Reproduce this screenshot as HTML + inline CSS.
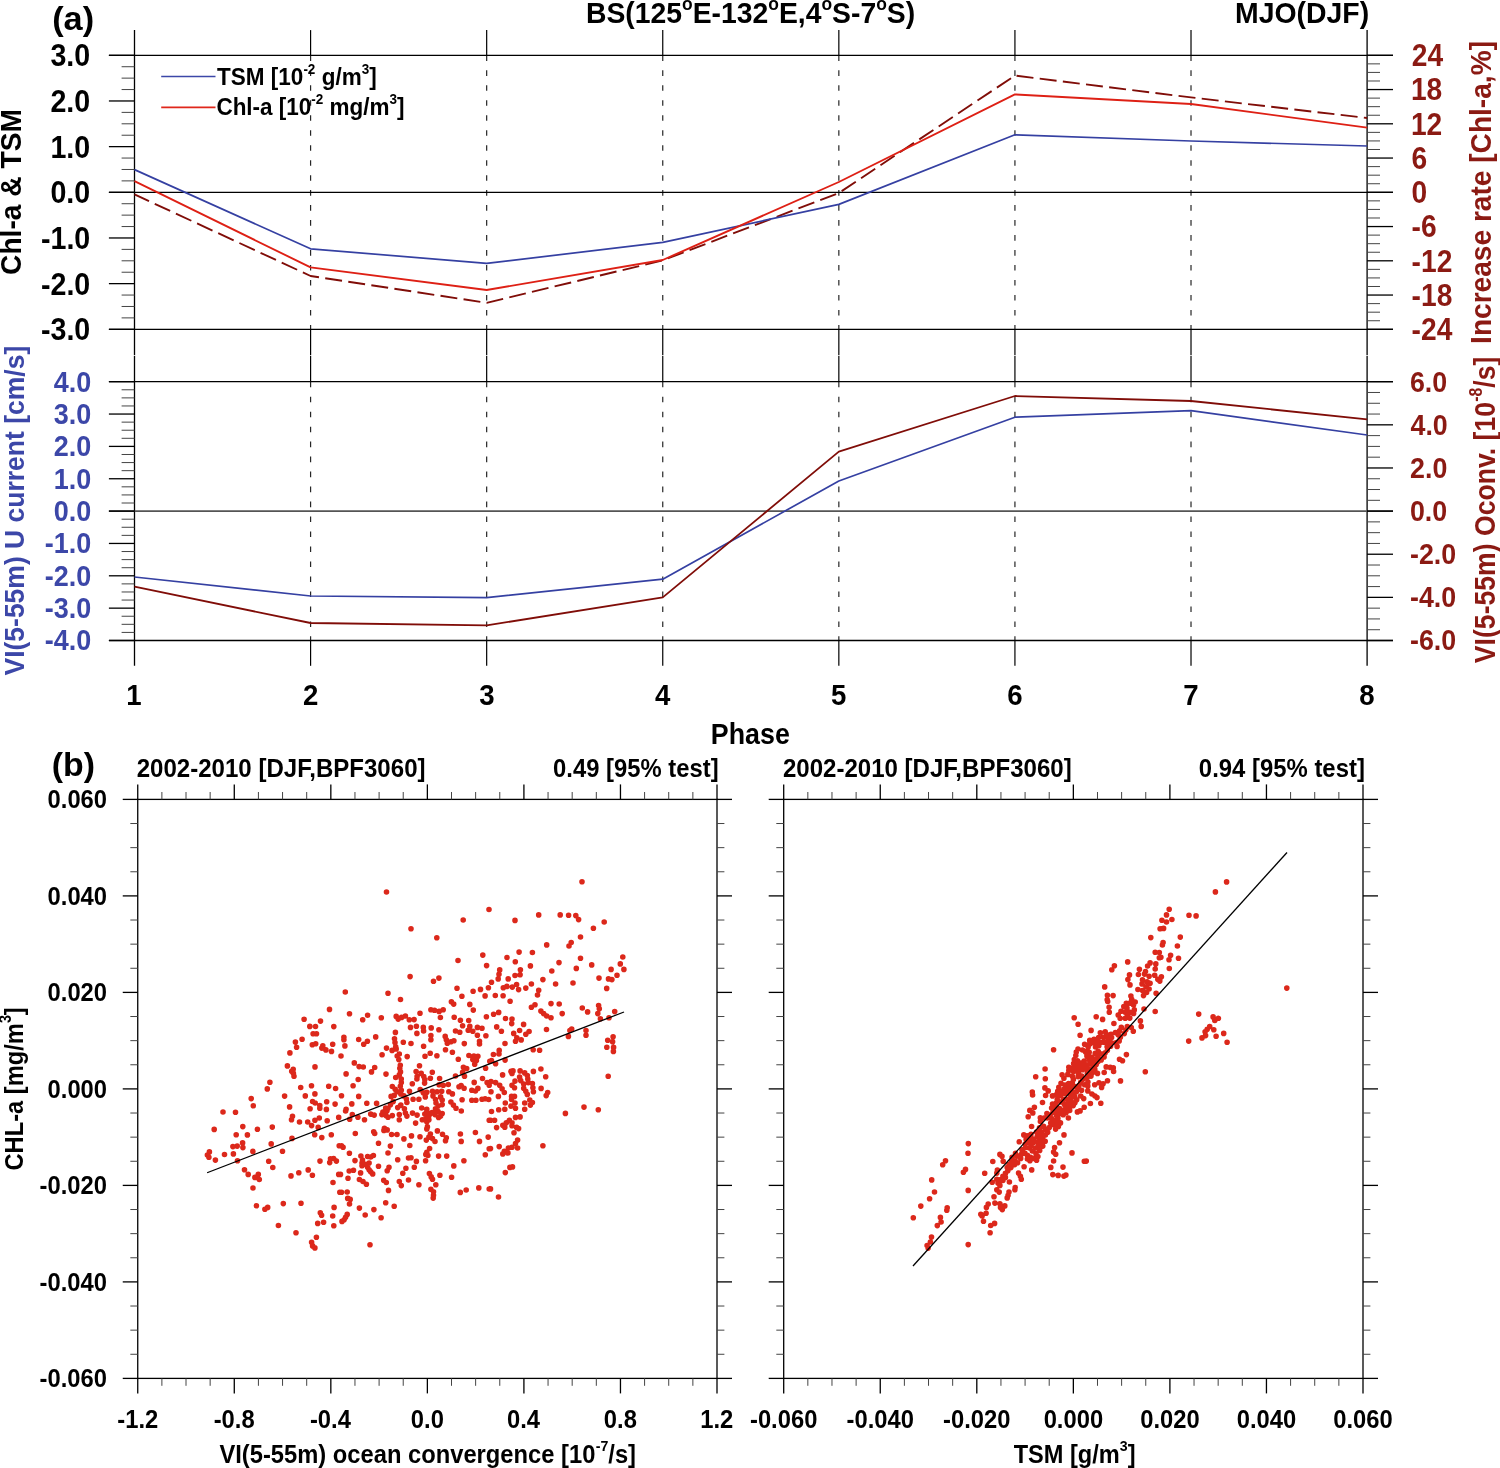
<!DOCTYPE html>
<html><head><meta charset="utf-8"><title>Figure</title>
<style>
html,body{margin:0;padding:0;background:#fff;}
body{width:1500px;height:1468px;overflow:hidden;}
svg{display:block;will-change:transform;}
text{font-family:"Liberation Sans",sans-serif;font-weight:bold;}
</style></head><body>
<svg width="1500" height="1468" viewBox="0 0 1500 1468">
<rect width="1500" height="1468" fill="#fff"/>
<g id="panelA">
<line x1="134.5" y1="30.1" x2="134.5" y2="355.1" stroke="#000" stroke-width="1.3"/>
<line x1="134.5" y1="355.8" x2="134.5" y2="665.8" stroke="#000" stroke-width="1.3"/>
<line x1="310.59" y1="30.1" x2="310.59" y2="55.3" stroke="#000" stroke-width="1.2"/>
<line x1="310.59" y1="55.3" x2="310.59" y2="329.3" stroke="#262626" stroke-width="1.2" stroke-dasharray="5.6 9.38"/>
<line x1="310.59" y1="329.3" x2="310.59" y2="355.1" stroke="#000" stroke-width="1.2"/>
<line x1="310.59" y1="355.8" x2="310.59" y2="381.7" stroke="#000" stroke-width="1.2"/>
<line x1="310.59" y1="381.7" x2="310.59" y2="640.5" stroke="#262626" stroke-width="1.2" stroke-dasharray="5.6 9.38"/>
<line x1="310.59" y1="640.5" x2="310.59" y2="665.8" stroke="#000" stroke-width="1.2"/>
<line x1="486.67" y1="30.1" x2="486.67" y2="55.3" stroke="#000" stroke-width="1.2"/>
<line x1="486.67" y1="55.3" x2="486.67" y2="329.3" stroke="#262626" stroke-width="1.2" stroke-dasharray="5.6 9.38"/>
<line x1="486.67" y1="329.3" x2="486.67" y2="355.1" stroke="#000" stroke-width="1.2"/>
<line x1="486.67" y1="355.8" x2="486.67" y2="381.7" stroke="#000" stroke-width="1.2"/>
<line x1="486.67" y1="381.7" x2="486.67" y2="640.5" stroke="#262626" stroke-width="1.2" stroke-dasharray="5.6 9.38"/>
<line x1="486.67" y1="640.5" x2="486.67" y2="665.8" stroke="#000" stroke-width="1.2"/>
<line x1="662.75" y1="30.1" x2="662.75" y2="55.3" stroke="#000" stroke-width="1.2"/>
<line x1="662.75" y1="55.3" x2="662.75" y2="329.3" stroke="#262626" stroke-width="1.2" stroke-dasharray="5.6 9.38"/>
<line x1="662.75" y1="329.3" x2="662.75" y2="355.1" stroke="#000" stroke-width="1.2"/>
<line x1="662.75" y1="355.8" x2="662.75" y2="381.7" stroke="#000" stroke-width="1.2"/>
<line x1="662.75" y1="381.7" x2="662.75" y2="640.5" stroke="#262626" stroke-width="1.2" stroke-dasharray="5.6 9.38"/>
<line x1="662.75" y1="640.5" x2="662.75" y2="665.8" stroke="#000" stroke-width="1.2"/>
<line x1="838.84" y1="30.1" x2="838.84" y2="55.3" stroke="#000" stroke-width="1.2"/>
<line x1="838.84" y1="55.3" x2="838.84" y2="329.3" stroke="#262626" stroke-width="1.2" stroke-dasharray="5.6 9.38"/>
<line x1="838.84" y1="329.3" x2="838.84" y2="355.1" stroke="#000" stroke-width="1.2"/>
<line x1="838.84" y1="355.8" x2="838.84" y2="381.7" stroke="#000" stroke-width="1.2"/>
<line x1="838.84" y1="381.7" x2="838.84" y2="640.5" stroke="#262626" stroke-width="1.2" stroke-dasharray="5.6 9.38"/>
<line x1="838.84" y1="640.5" x2="838.84" y2="665.8" stroke="#000" stroke-width="1.2"/>
<line x1="1014.93" y1="30.1" x2="1014.93" y2="55.3" stroke="#000" stroke-width="1.2"/>
<line x1="1014.93" y1="55.3" x2="1014.93" y2="329.3" stroke="#262626" stroke-width="1.2" stroke-dasharray="5.6 9.38"/>
<line x1="1014.93" y1="329.3" x2="1014.93" y2="355.1" stroke="#000" stroke-width="1.2"/>
<line x1="1014.93" y1="355.8" x2="1014.93" y2="381.7" stroke="#000" stroke-width="1.2"/>
<line x1="1014.93" y1="381.7" x2="1014.93" y2="640.5" stroke="#262626" stroke-width="1.2" stroke-dasharray="5.6 9.38"/>
<line x1="1014.93" y1="640.5" x2="1014.93" y2="665.8" stroke="#000" stroke-width="1.2"/>
<line x1="1191.01" y1="30.1" x2="1191.01" y2="55.3" stroke="#000" stroke-width="1.2"/>
<line x1="1191.01" y1="55.3" x2="1191.01" y2="329.3" stroke="#262626" stroke-width="1.2" stroke-dasharray="5.6 9.38"/>
<line x1="1191.01" y1="329.3" x2="1191.01" y2="355.1" stroke="#000" stroke-width="1.2"/>
<line x1="1191.01" y1="355.8" x2="1191.01" y2="381.7" stroke="#000" stroke-width="1.2"/>
<line x1="1191.01" y1="381.7" x2="1191.01" y2="640.5" stroke="#262626" stroke-width="1.2" stroke-dasharray="5.6 9.38"/>
<line x1="1191.01" y1="640.5" x2="1191.01" y2="665.8" stroke="#000" stroke-width="1.2"/>
<line x1="1367.1" y1="30.1" x2="1367.1" y2="355.1" stroke="#000" stroke-width="1.3"/>
<line x1="1367.1" y1="355.8" x2="1367.1" y2="665.8" stroke="#000" stroke-width="1.3"/>
<line x1="108.9" y1="55.3" x2="1393" y2="55.3" stroke="#000" stroke-width="1.3"/>
<line x1="108.9" y1="192.3" x2="1393" y2="192.3" stroke="#000" stroke-width="1.3"/>
<line x1="108.9" y1="329.3" x2="1393" y2="329.3" stroke="#000" stroke-width="1.3"/>
<line x1="108.9" y1="381.7" x2="1393" y2="381.7" stroke="#000" stroke-width="1.3"/>
<line x1="108.9" y1="640.5" x2="1393" y2="640.5" stroke="#000" stroke-width="1.3"/>
<line x1="134.5" y1="511.1" x2="1367.1" y2="511.1" stroke="#555" stroke-width="1.6"/>
<line x1="108.9" y1="511.1" x2="134.5" y2="511.1" stroke="#000" stroke-width="1.3"/>
<line x1="1367.1" y1="511.1" x2="1393" y2="511.1" stroke="#000" stroke-width="1.3"/>
<line x1="108.9" y1="55.3" x2="134.5" y2="55.3" stroke="#000" stroke-width="1.3"/>
<line x1="121.6" y1="66.72" x2="134.5" y2="66.72" stroke="#444" stroke-width="1.0"/>
<line x1="121.6" y1="78.13" x2="134.5" y2="78.13" stroke="#444" stroke-width="1.0"/>
<line x1="121.6" y1="89.55" x2="134.5" y2="89.55" stroke="#444" stroke-width="1.0"/>
<line x1="108.9" y1="100.97" x2="134.5" y2="100.97" stroke="#000" stroke-width="1.3"/>
<line x1="121.6" y1="112.38" x2="134.5" y2="112.38" stroke="#444" stroke-width="1.0"/>
<line x1="121.6" y1="123.8" x2="134.5" y2="123.8" stroke="#444" stroke-width="1.0"/>
<line x1="121.6" y1="135.22" x2="134.5" y2="135.22" stroke="#444" stroke-width="1.0"/>
<line x1="108.9" y1="146.63" x2="134.5" y2="146.63" stroke="#000" stroke-width="1.3"/>
<line x1="121.6" y1="158.05" x2="134.5" y2="158.05" stroke="#444" stroke-width="1.0"/>
<line x1="121.6" y1="169.47" x2="134.5" y2="169.47" stroke="#444" stroke-width="1.0"/>
<line x1="121.6" y1="180.88" x2="134.5" y2="180.88" stroke="#444" stroke-width="1.0"/>
<line x1="108.9" y1="192.3" x2="134.5" y2="192.3" stroke="#000" stroke-width="1.3"/>
<line x1="121.6" y1="203.72" x2="134.5" y2="203.72" stroke="#444" stroke-width="1.0"/>
<line x1="121.6" y1="215.13" x2="134.5" y2="215.13" stroke="#444" stroke-width="1.0"/>
<line x1="121.6" y1="226.55" x2="134.5" y2="226.55" stroke="#444" stroke-width="1.0"/>
<line x1="108.9" y1="237.97" x2="134.5" y2="237.97" stroke="#000" stroke-width="1.3"/>
<line x1="121.6" y1="249.38" x2="134.5" y2="249.38" stroke="#444" stroke-width="1.0"/>
<line x1="121.6" y1="260.8" x2="134.5" y2="260.8" stroke="#444" stroke-width="1.0"/>
<line x1="121.6" y1="272.22" x2="134.5" y2="272.22" stroke="#444" stroke-width="1.0"/>
<line x1="108.9" y1="283.63" x2="134.5" y2="283.63" stroke="#000" stroke-width="1.3"/>
<line x1="121.6" y1="295.05" x2="134.5" y2="295.05" stroke="#444" stroke-width="1.0"/>
<line x1="121.6" y1="306.47" x2="134.5" y2="306.47" stroke="#444" stroke-width="1.0"/>
<line x1="121.6" y1="317.88" x2="134.5" y2="317.88" stroke="#444" stroke-width="1.0"/>
<line x1="108.9" y1="329.3" x2="134.5" y2="329.3" stroke="#000" stroke-width="1.3"/>
<line x1="1367.1" y1="55.3" x2="1393" y2="55.3" stroke="#000" stroke-width="1.3"/>
<line x1="1367.1" y1="63.86" x2="1380" y2="63.86" stroke="#444" stroke-width="1.0"/>
<line x1="1367.1" y1="72.42" x2="1380" y2="72.42" stroke="#444" stroke-width="1.0"/>
<line x1="1367.1" y1="80.99" x2="1380" y2="80.99" stroke="#444" stroke-width="1.0"/>
<line x1="1367.1" y1="89.55" x2="1393" y2="89.55" stroke="#000" stroke-width="1.3"/>
<line x1="1367.1" y1="98.11" x2="1380" y2="98.11" stroke="#444" stroke-width="1.0"/>
<line x1="1367.1" y1="106.67" x2="1380" y2="106.67" stroke="#444" stroke-width="1.0"/>
<line x1="1367.1" y1="115.24" x2="1380" y2="115.24" stroke="#444" stroke-width="1.0"/>
<line x1="1367.1" y1="123.8" x2="1393" y2="123.8" stroke="#000" stroke-width="1.3"/>
<line x1="1367.1" y1="132.36" x2="1380" y2="132.36" stroke="#444" stroke-width="1.0"/>
<line x1="1367.1" y1="140.93" x2="1380" y2="140.93" stroke="#444" stroke-width="1.0"/>
<line x1="1367.1" y1="149.49" x2="1380" y2="149.49" stroke="#444" stroke-width="1.0"/>
<line x1="1367.1" y1="158.05" x2="1393" y2="158.05" stroke="#000" stroke-width="1.3"/>
<line x1="1367.1" y1="166.61" x2="1380" y2="166.61" stroke="#444" stroke-width="1.0"/>
<line x1="1367.1" y1="175.18" x2="1380" y2="175.18" stroke="#444" stroke-width="1.0"/>
<line x1="1367.1" y1="183.74" x2="1380" y2="183.74" stroke="#444" stroke-width="1.0"/>
<line x1="1367.1" y1="192.3" x2="1393" y2="192.3" stroke="#000" stroke-width="1.3"/>
<line x1="1367.1" y1="200.86" x2="1380" y2="200.86" stroke="#444" stroke-width="1.0"/>
<line x1="1367.1" y1="209.43" x2="1380" y2="209.43" stroke="#444" stroke-width="1.0"/>
<line x1="1367.1" y1="217.99" x2="1380" y2="217.99" stroke="#444" stroke-width="1.0"/>
<line x1="1367.1" y1="226.55" x2="1393" y2="226.55" stroke="#000" stroke-width="1.3"/>
<line x1="1367.1" y1="235.11" x2="1380" y2="235.11" stroke="#444" stroke-width="1.0"/>
<line x1="1367.1" y1="243.68" x2="1380" y2="243.68" stroke="#444" stroke-width="1.0"/>
<line x1="1367.1" y1="252.24" x2="1380" y2="252.24" stroke="#444" stroke-width="1.0"/>
<line x1="1367.1" y1="260.8" x2="1393" y2="260.8" stroke="#000" stroke-width="1.3"/>
<line x1="1367.1" y1="269.36" x2="1380" y2="269.36" stroke="#444" stroke-width="1.0"/>
<line x1="1367.1" y1="277.93" x2="1380" y2="277.93" stroke="#444" stroke-width="1.0"/>
<line x1="1367.1" y1="286.49" x2="1380" y2="286.49" stroke="#444" stroke-width="1.0"/>
<line x1="1367.1" y1="295.05" x2="1393" y2="295.05" stroke="#000" stroke-width="1.3"/>
<line x1="1367.1" y1="303.61" x2="1380" y2="303.61" stroke="#444" stroke-width="1.0"/>
<line x1="1367.1" y1="312.18" x2="1380" y2="312.18" stroke="#444" stroke-width="1.0"/>
<line x1="1367.1" y1="320.74" x2="1380" y2="320.74" stroke="#444" stroke-width="1.0"/>
<line x1="1367.1" y1="329.3" x2="1393" y2="329.3" stroke="#000" stroke-width="1.3"/>
<line x1="108.9" y1="381.7" x2="134.5" y2="381.7" stroke="#000" stroke-width="1.3"/>
<line x1="121.6" y1="389.79" x2="134.5" y2="389.79" stroke="#444" stroke-width="1.0"/>
<line x1="121.6" y1="397.88" x2="134.5" y2="397.88" stroke="#444" stroke-width="1.0"/>
<line x1="121.6" y1="405.96" x2="134.5" y2="405.96" stroke="#444" stroke-width="1.0"/>
<line x1="108.9" y1="414.05" x2="134.5" y2="414.05" stroke="#000" stroke-width="1.3"/>
<line x1="121.6" y1="422.14" x2="134.5" y2="422.14" stroke="#444" stroke-width="1.0"/>
<line x1="121.6" y1="430.23" x2="134.5" y2="430.23" stroke="#444" stroke-width="1.0"/>
<line x1="121.6" y1="438.31" x2="134.5" y2="438.31" stroke="#444" stroke-width="1.0"/>
<line x1="108.9" y1="446.4" x2="134.5" y2="446.4" stroke="#000" stroke-width="1.3"/>
<line x1="121.6" y1="454.49" x2="134.5" y2="454.49" stroke="#444" stroke-width="1.0"/>
<line x1="121.6" y1="462.57" x2="134.5" y2="462.57" stroke="#444" stroke-width="1.0"/>
<line x1="121.6" y1="470.66" x2="134.5" y2="470.66" stroke="#444" stroke-width="1.0"/>
<line x1="108.9" y1="478.75" x2="134.5" y2="478.75" stroke="#000" stroke-width="1.3"/>
<line x1="121.6" y1="486.84" x2="134.5" y2="486.84" stroke="#444" stroke-width="1.0"/>
<line x1="121.6" y1="494.93" x2="134.5" y2="494.93" stroke="#444" stroke-width="1.0"/>
<line x1="121.6" y1="503.01" x2="134.5" y2="503.01" stroke="#444" stroke-width="1.0"/>
<line x1="108.9" y1="511.1" x2="134.5" y2="511.1" stroke="#000" stroke-width="1.3"/>
<line x1="121.6" y1="519.19" x2="134.5" y2="519.19" stroke="#444" stroke-width="1.0"/>
<line x1="121.6" y1="527.27" x2="134.5" y2="527.27" stroke="#444" stroke-width="1.0"/>
<line x1="121.6" y1="535.36" x2="134.5" y2="535.36" stroke="#444" stroke-width="1.0"/>
<line x1="108.9" y1="543.45" x2="134.5" y2="543.45" stroke="#000" stroke-width="1.3"/>
<line x1="121.6" y1="551.54" x2="134.5" y2="551.54" stroke="#444" stroke-width="1.0"/>
<line x1="121.6" y1="559.62" x2="134.5" y2="559.62" stroke="#444" stroke-width="1.0"/>
<line x1="121.6" y1="567.71" x2="134.5" y2="567.71" stroke="#444" stroke-width="1.0"/>
<line x1="108.9" y1="575.8" x2="134.5" y2="575.8" stroke="#000" stroke-width="1.3"/>
<line x1="121.6" y1="583.89" x2="134.5" y2="583.89" stroke="#444" stroke-width="1.0"/>
<line x1="121.6" y1="591.97" x2="134.5" y2="591.97" stroke="#444" stroke-width="1.0"/>
<line x1="121.6" y1="600.06" x2="134.5" y2="600.06" stroke="#444" stroke-width="1.0"/>
<line x1="108.9" y1="608.15" x2="134.5" y2="608.15" stroke="#000" stroke-width="1.3"/>
<line x1="121.6" y1="616.24" x2="134.5" y2="616.24" stroke="#444" stroke-width="1.0"/>
<line x1="121.6" y1="624.32" x2="134.5" y2="624.32" stroke="#444" stroke-width="1.0"/>
<line x1="121.6" y1="632.41" x2="134.5" y2="632.41" stroke="#444" stroke-width="1.0"/>
<line x1="108.9" y1="640.5" x2="134.5" y2="640.5" stroke="#000" stroke-width="1.3"/>
<line x1="1367.1" y1="381.7" x2="1393" y2="381.7" stroke="#000" stroke-width="1.3"/>
<line x1="1367.1" y1="392.48" x2="1380" y2="392.48" stroke="#444" stroke-width="1.0"/>
<line x1="1367.1" y1="403.27" x2="1380" y2="403.27" stroke="#444" stroke-width="1.0"/>
<line x1="1367.1" y1="414.05" x2="1380" y2="414.05" stroke="#444" stroke-width="1.0"/>
<line x1="1367.1" y1="424.83" x2="1393" y2="424.83" stroke="#000" stroke-width="1.3"/>
<line x1="1367.1" y1="435.62" x2="1380" y2="435.62" stroke="#444" stroke-width="1.0"/>
<line x1="1367.1" y1="446.4" x2="1380" y2="446.4" stroke="#444" stroke-width="1.0"/>
<line x1="1367.1" y1="457.18" x2="1380" y2="457.18" stroke="#444" stroke-width="1.0"/>
<line x1="1367.1" y1="467.97" x2="1393" y2="467.97" stroke="#000" stroke-width="1.3"/>
<line x1="1367.1" y1="478.75" x2="1380" y2="478.75" stroke="#444" stroke-width="1.0"/>
<line x1="1367.1" y1="489.53" x2="1380" y2="489.53" stroke="#444" stroke-width="1.0"/>
<line x1="1367.1" y1="500.32" x2="1380" y2="500.32" stroke="#444" stroke-width="1.0"/>
<line x1="1367.1" y1="511.1" x2="1393" y2="511.1" stroke="#000" stroke-width="1.3"/>
<line x1="1367.1" y1="521.88" x2="1380" y2="521.88" stroke="#444" stroke-width="1.0"/>
<line x1="1367.1" y1="532.67" x2="1380" y2="532.67" stroke="#444" stroke-width="1.0"/>
<line x1="1367.1" y1="543.45" x2="1380" y2="543.45" stroke="#444" stroke-width="1.0"/>
<line x1="1367.1" y1="554.23" x2="1393" y2="554.23" stroke="#000" stroke-width="1.3"/>
<line x1="1367.1" y1="565.02" x2="1380" y2="565.02" stroke="#444" stroke-width="1.0"/>
<line x1="1367.1" y1="575.8" x2="1380" y2="575.8" stroke="#444" stroke-width="1.0"/>
<line x1="1367.1" y1="586.58" x2="1380" y2="586.58" stroke="#444" stroke-width="1.0"/>
<line x1="1367.1" y1="597.37" x2="1393" y2="597.37" stroke="#000" stroke-width="1.3"/>
<line x1="1367.1" y1="608.15" x2="1380" y2="608.15" stroke="#444" stroke-width="1.0"/>
<line x1="1367.1" y1="618.93" x2="1380" y2="618.93" stroke="#444" stroke-width="1.0"/>
<line x1="1367.1" y1="629.72" x2="1380" y2="629.72" stroke="#444" stroke-width="1.0"/>
<line x1="1367.1" y1="640.5" x2="1393" y2="640.5" stroke="#000" stroke-width="1.3"/>
<polyline points="134.5,194.4 310.59,276 486.67,302.8 662.75,260.4 838.84,193 1014.93,75.6 1191.01,97.4 1367.1,118" fill="none" stroke="#800d08" stroke-width="1.9" stroke-linejoin="round" stroke-dasharray="17 6.32" stroke-dashoffset="1.0"/>
<polyline points="134.5,169.6 310.59,248.8 486.67,263.4 662.75,242.4 838.84,204.4 1014.93,134.8 1191.01,141 1367.1,146" fill="none" stroke="#3540a2" stroke-width="1.7" stroke-linejoin="round"/>
<polyline points="134.5,181.2 310.59,267.4 486.67,290 662.75,260 838.84,182 1014.93,94.4 1191.01,104 1367.1,127.6" fill="none" stroke="#de2015" stroke-width="1.9" stroke-linejoin="round"/>
<polyline points="134.5,577 310.59,596 486.67,597.6 662.75,579.2 838.84,481 1014.93,417.2 1191.01,410.6 1367.1,435" fill="none" stroke="#3540a2" stroke-width="1.7" stroke-linejoin="round"/>
<polyline points="134.5,586.6 310.59,623 486.67,625.4 662.75,597.4 838.84,451.6 1014.93,396 1191.01,401 1367.1,419.4" fill="none" stroke="#800d08" stroke-width="1.8" stroke-linejoin="round"/>
<line x1="161.2" y1="76.5" x2="215.5" y2="76.5" stroke="#3c47a8" stroke-width="1.6"/>
<line x1="161.2" y1="107.4" x2="215.5" y2="107.4" stroke="#e0271b" stroke-width="1.8"/>
<text transform="translate(217.07,84.6) scale(0.9459,1)" fill="#000" font-size="23.8"><tspan x="0" y="0" font-size="23.8">TSM [10</tspan><tspan x="91.25" y="-10.95" font-size="14.28">-2</tspan><tspan x="103.95" y="0" font-size="23.8"> g/m</tspan><tspan x="152.87" y="-10.95" font-size="14.28">3</tspan><tspan x="160.82" y="0" font-size="23.8">]</tspan></text>
<text transform="translate(216.4,115.4) scale(0.9449,1)" fill="#000" font-size="23.8"><tspan x="0" y="0" font-size="23.8">Chl-a [10</tspan><tspan x="100.51" y="-10.95" font-size="14.28">-2</tspan><tspan x="113.21" y="0" font-size="23.8"> mg/m</tspan><tspan x="183.3" y="-10.95" font-size="14.28">3</tspan><tspan x="191.24" y="0" font-size="23.8">]</tspan></text>
<text transform="translate(52.15,29.9) scale(1.0099,1)" fill="#000" font-size="34"><tspan x="0" y="-0" font-size="34">(a)</tspan></text>
<text transform="translate(585.96,23.3) scale(0.9671,1)" fill="#000" font-size="29.3"><tspan x="0" y="0" font-size="29.3">BS(125</tspan><tspan x="99.35" y="-13.48" font-size="18.02">o</tspan><tspan x="110.36" y="0" font-size="29.3">E-132</tspan><tspan x="188.55" y="-13.48" font-size="18.02">o</tspan><tspan x="199.55" y="0" font-size="29.3">E,4</tspan><tspan x="243.53" y="-13.48" font-size="18.02">o</tspan><tspan x="254.54" y="0" font-size="29.3">S-7</tspan><tspan x="300.14" y="-13.48" font-size="18.02">o</tspan><tspan x="311.15" y="0" font-size="29.3">S)</tspan></text>
<text transform="translate(1235.05,23.2) scale(0.9691,1)" fill="#000" font-size="29.3"><tspan x="0" y="-0" font-size="29.3">MJO(DJF)</tspan></text>
<text transform="translate(50.44,66.22) scale(0.9140,1)" fill="#000" font-size="31.3"><tspan x="0" y="-0" font-size="31.3">3.0</tspan></text>
<text transform="translate(50.44,111.89) scale(0.9140,1)" fill="#000" font-size="31.3"><tspan x="0" y="-0" font-size="31.3">2.0</tspan></text>
<text transform="translate(50.44,157.55) scale(0.9140,1)" fill="#000" font-size="31.3"><tspan x="0" y="-0" font-size="31.3">1.0</tspan></text>
<text transform="translate(50.44,203.22) scale(0.9140,1)" fill="#000" font-size="31.3"><tspan x="0" y="-0" font-size="31.3">0.0</tspan></text>
<text transform="translate(41,248.89) scale(0.9140,1)" fill="#000" font-size="31.3"><tspan x="0" y="-0" font-size="31.3">-1.0</tspan></text>
<text transform="translate(41,294.55) scale(0.9140,1)" fill="#000" font-size="31.3"><tspan x="0" y="-0" font-size="31.3">-2.0</tspan></text>
<text transform="translate(41,340.22) scale(0.9140,1)" fill="#000" font-size="31.3"><tspan x="0" y="-0" font-size="31.3">-3.0</tspan></text>
<text transform="translate(1411.75,66.22) scale(0.9000,1)" fill="#8b1a13" font-size="31.3"><tspan x="0" y="-0" font-size="31.3">24</tspan></text>
<text transform="translate(1410.91,100.47) scale(0.9000,1)" fill="#8b1a13" font-size="31.3"><tspan x="0" y="-0" font-size="31.3">18</tspan></text>
<text transform="translate(1410.91,134.72) scale(0.9000,1)" fill="#8b1a13" font-size="31.3"><tspan x="0" y="-0" font-size="31.3">12</tspan></text>
<text transform="translate(1411.61,168.97) scale(0.9000,1)" fill="#8b1a13" font-size="31.3"><tspan x="0" y="-0" font-size="31.3">6</tspan></text>
<text transform="translate(1411.61,203.22) scale(0.9000,1)" fill="#8b1a13" font-size="31.3"><tspan x="0" y="-0" font-size="31.3">0</tspan></text>
<text transform="translate(1411.61,237.47) scale(0.9000,1)" fill="#8b1a13" font-size="31.3"><tspan x="0" y="-0" font-size="31.3">-6</tspan></text>
<text transform="translate(1411.61,271.72) scale(0.9000,1)" fill="#8b1a13" font-size="31.3"><tspan x="0" y="-0" font-size="31.3">-12</tspan></text>
<text transform="translate(1411.61,305.97) scale(0.9000,1)" fill="#8b1a13" font-size="31.3"><tspan x="0" y="-0" font-size="31.3">-18</tspan></text>
<text transform="translate(1411.61,340.22) scale(0.9000,1)" fill="#8b1a13" font-size="31.3"><tspan x="0" y="-0" font-size="31.3">-24</tspan></text>
<text transform="translate(53.76,391.61) scale(0.9050,1)" fill="#3c47a8" font-size="29.8"><tspan x="0" y="-0" font-size="29.8">4.0</tspan></text>
<text transform="translate(53.76,423.96) scale(0.9050,1)" fill="#3c47a8" font-size="29.8"><tspan x="0" y="-0" font-size="29.8">3.0</tspan></text>
<text transform="translate(53.76,456.31) scale(0.9050,1)" fill="#3c47a8" font-size="29.8"><tspan x="0" y="-0" font-size="29.8">2.0</tspan></text>
<text transform="translate(53.76,488.66) scale(0.9050,1)" fill="#3c47a8" font-size="29.8"><tspan x="0" y="-0" font-size="29.8">1.0</tspan></text>
<text transform="translate(53.76,521.01) scale(0.9050,1)" fill="#3c47a8" font-size="29.8"><tspan x="0" y="-0" font-size="29.8">0.0</tspan></text>
<text transform="translate(44.86,553.36) scale(0.9050,1)" fill="#3c47a8" font-size="29.8"><tspan x="0" y="-0" font-size="29.8">-1.0</tspan></text>
<text transform="translate(44.86,585.71) scale(0.9050,1)" fill="#3c47a8" font-size="29.8"><tspan x="0" y="-0" font-size="29.8">-2.0</tspan></text>
<text transform="translate(44.86,618.06) scale(0.9050,1)" fill="#3c47a8" font-size="29.8"><tspan x="0" y="-0" font-size="29.8">-3.0</tspan></text>
<text transform="translate(44.86,650.41) scale(0.9050,1)" fill="#3c47a8" font-size="29.8"><tspan x="0" y="-0" font-size="29.8">-4.0</tspan></text>
<text transform="translate(1409.96,391.61) scale(0.9000,1)" fill="#8b1a13" font-size="29.8"><tspan x="0" y="-0" font-size="29.8">6.0</tspan></text>
<text transform="translate(1410.5,434.74) scale(0.9000,1)" fill="#8b1a13" font-size="29.8"><tspan x="0" y="-0" font-size="29.8">4.0</tspan></text>
<text transform="translate(1410.1,477.87) scale(0.9000,1)" fill="#8b1a13" font-size="29.8"><tspan x="0" y="-0" font-size="29.8">2.0</tspan></text>
<text transform="translate(1409.96,521.01) scale(0.9000,1)" fill="#8b1a13" font-size="29.8"><tspan x="0" y="-0" font-size="29.8">0.0</tspan></text>
<text transform="translate(1409.96,564.14) scale(0.9000,1)" fill="#8b1a13" font-size="29.8"><tspan x="0" y="-0" font-size="29.8">-2.0</tspan></text>
<text transform="translate(1409.96,607.27) scale(0.9000,1)" fill="#8b1a13" font-size="29.8"><tspan x="0" y="-0" font-size="29.8">-4.0</tspan></text>
<text transform="translate(1409.96,650.41) scale(0.9000,1)" fill="#8b1a13" font-size="29.8"><tspan x="0" y="-0" font-size="29.8">-6.0</tspan></text>
<text transform="translate(21.3,274.93) rotate(-90) scale(0.9722,1)" fill="#000" font-size="29"><tspan x="0" y="-0" font-size="29">Chl-a &amp; TSM</tspan></text>
<text transform="translate(1490.6,343.93) rotate(-90) scale(0.9433,1)" fill="#8b1a13" font-size="29.8"><tspan x="0" y="-0" font-size="29.8">Increase rate [Chl-a,%]</tspan></text>
<text transform="translate(23.9,675.53) rotate(-90) scale(0.9890,1)" fill="#3c47a8" font-size="26.8"><tspan x="0" y="-0" font-size="26.8">VI(5-55m) U current [cm/s]</tspan></text>
<text transform="translate(1495.3,663.13) rotate(-90) scale(0.9113,1)" fill="#8b1a13" font-size="29.2"><tspan x="0" y="0" font-size="29.2">VI(5-55m) Oconv. [10</tspan><tspan x="286.69" y="-13.43" font-size="17.52">-8</tspan><tspan x="302.27" y="0" font-size="29.2">/s]</tspan></text>
<text transform="translate(126.35,704.9) scale(0.9300,1)" fill="#000" font-size="29.7"><tspan x="0" y="-0" font-size="29.7">1</tspan></text>
<text transform="translate(302.99,704.9) scale(0.9300,1)" fill="#000" font-size="29.7"><tspan x="0" y="-0" font-size="29.7">2</tspan></text>
<text transform="translate(479.21,704.9) scale(0.9300,1)" fill="#000" font-size="29.7"><tspan x="0" y="-0" font-size="29.7">3</tspan></text>
<text transform="translate(654.88,704.9) scale(0.9300,1)" fill="#000" font-size="29.7"><tspan x="0" y="-0" font-size="29.7">4</tspan></text>
<text transform="translate(831.11,704.9) scale(0.9300,1)" fill="#000" font-size="29.7"><tspan x="0" y="-0" font-size="29.7">5</tspan></text>
<text transform="translate(1007.26,704.9) scale(0.9300,1)" fill="#000" font-size="29.7"><tspan x="0" y="-0" font-size="29.7">6</tspan></text>
<text transform="translate(1183.35,704.9) scale(0.9300,1)" fill="#000" font-size="29.7"><tspan x="0" y="-0" font-size="29.7">7</tspan></text>
<text transform="translate(1359.36,704.9) scale(0.9300,1)" fill="#000" font-size="29.7"><tspan x="0" y="-0" font-size="29.7">8</tspan></text>
<text transform="translate(710.86,743.5) scale(0.9308,1)" fill="#000" font-size="28.8"><tspan x="0" y="-0" font-size="28.8">Phase</tspan></text>
</g>
<g id="panelB">
<rect x="137.74" y="799.4" width="579.26" height="579" fill="none" stroke="#000" stroke-width="1.3"/>
<line x1="137.74" y1="784.4" x2="137.74" y2="799.4" stroke="#000" stroke-width="1.3"/>
<line x1="137.74" y1="1378.4" x2="137.74" y2="1393.4" stroke="#000" stroke-width="1.3"/>
<line x1="122.74" y1="799.4" x2="137.74" y2="799.4" stroke="#000" stroke-width="1.3"/>
<line x1="717" y1="799.4" x2="732" y2="799.4" stroke="#000" stroke-width="1.3"/>
<line x1="161.88" y1="792" x2="161.88" y2="799.4" stroke="#444" stroke-width="1.0"/>
<line x1="161.88" y1="1378.4" x2="161.88" y2="1385.8" stroke="#444" stroke-width="1.0"/>
<line x1="130.34" y1="823.52" x2="137.74" y2="823.52" stroke="#444" stroke-width="1.0"/>
<line x1="717" y1="823.52" x2="724.4" y2="823.52" stroke="#444" stroke-width="1.0"/>
<line x1="186.01" y1="792" x2="186.01" y2="799.4" stroke="#444" stroke-width="1.0"/>
<line x1="186.01" y1="1378.4" x2="186.01" y2="1385.8" stroke="#444" stroke-width="1.0"/>
<line x1="130.34" y1="847.65" x2="137.74" y2="847.65" stroke="#444" stroke-width="1.0"/>
<line x1="717" y1="847.65" x2="724.4" y2="847.65" stroke="#444" stroke-width="1.0"/>
<line x1="210.15" y1="792" x2="210.15" y2="799.4" stroke="#444" stroke-width="1.0"/>
<line x1="210.15" y1="1378.4" x2="210.15" y2="1385.8" stroke="#444" stroke-width="1.0"/>
<line x1="130.34" y1="871.77" x2="137.74" y2="871.77" stroke="#444" stroke-width="1.0"/>
<line x1="717" y1="871.77" x2="724.4" y2="871.77" stroke="#444" stroke-width="1.0"/>
<line x1="234.28" y1="784.4" x2="234.28" y2="799.4" stroke="#000" stroke-width="1.3"/>
<line x1="234.28" y1="1378.4" x2="234.28" y2="1393.4" stroke="#000" stroke-width="1.3"/>
<line x1="122.74" y1="895.9" x2="137.74" y2="895.9" stroke="#000" stroke-width="1.3"/>
<line x1="717" y1="895.9" x2="732" y2="895.9" stroke="#000" stroke-width="1.3"/>
<line x1="258.42" y1="792" x2="258.42" y2="799.4" stroke="#444" stroke-width="1.0"/>
<line x1="258.42" y1="1378.4" x2="258.42" y2="1385.8" stroke="#444" stroke-width="1.0"/>
<line x1="130.34" y1="920.02" x2="137.74" y2="920.02" stroke="#444" stroke-width="1.0"/>
<line x1="717" y1="920.02" x2="724.4" y2="920.02" stroke="#444" stroke-width="1.0"/>
<line x1="282.56" y1="792" x2="282.56" y2="799.4" stroke="#444" stroke-width="1.0"/>
<line x1="282.56" y1="1378.4" x2="282.56" y2="1385.8" stroke="#444" stroke-width="1.0"/>
<line x1="130.34" y1="944.15" x2="137.74" y2="944.15" stroke="#444" stroke-width="1.0"/>
<line x1="717" y1="944.15" x2="724.4" y2="944.15" stroke="#444" stroke-width="1.0"/>
<line x1="306.69" y1="792" x2="306.69" y2="799.4" stroke="#444" stroke-width="1.0"/>
<line x1="306.69" y1="1378.4" x2="306.69" y2="1385.8" stroke="#444" stroke-width="1.0"/>
<line x1="130.34" y1="968.27" x2="137.74" y2="968.27" stroke="#444" stroke-width="1.0"/>
<line x1="717" y1="968.27" x2="724.4" y2="968.27" stroke="#444" stroke-width="1.0"/>
<line x1="330.83" y1="784.4" x2="330.83" y2="799.4" stroke="#000" stroke-width="1.3"/>
<line x1="330.83" y1="1378.4" x2="330.83" y2="1393.4" stroke="#000" stroke-width="1.3"/>
<line x1="122.74" y1="992.4" x2="137.74" y2="992.4" stroke="#000" stroke-width="1.3"/>
<line x1="717" y1="992.4" x2="732" y2="992.4" stroke="#000" stroke-width="1.3"/>
<line x1="354.96" y1="792" x2="354.96" y2="799.4" stroke="#444" stroke-width="1.0"/>
<line x1="354.96" y1="1378.4" x2="354.96" y2="1385.8" stroke="#444" stroke-width="1.0"/>
<line x1="130.34" y1="1016.52" x2="137.74" y2="1016.52" stroke="#444" stroke-width="1.0"/>
<line x1="717" y1="1016.52" x2="724.4" y2="1016.52" stroke="#444" stroke-width="1.0"/>
<line x1="379.1" y1="792" x2="379.1" y2="799.4" stroke="#444" stroke-width="1.0"/>
<line x1="379.1" y1="1378.4" x2="379.1" y2="1385.8" stroke="#444" stroke-width="1.0"/>
<line x1="130.34" y1="1040.65" x2="137.74" y2="1040.65" stroke="#444" stroke-width="1.0"/>
<line x1="717" y1="1040.65" x2="724.4" y2="1040.65" stroke="#444" stroke-width="1.0"/>
<line x1="403.23" y1="792" x2="403.23" y2="799.4" stroke="#444" stroke-width="1.0"/>
<line x1="403.23" y1="1378.4" x2="403.23" y2="1385.8" stroke="#444" stroke-width="1.0"/>
<line x1="130.34" y1="1064.78" x2="137.74" y2="1064.78" stroke="#444" stroke-width="1.0"/>
<line x1="717" y1="1064.78" x2="724.4" y2="1064.78" stroke="#444" stroke-width="1.0"/>
<line x1="427.37" y1="784.4" x2="427.37" y2="799.4" stroke="#000" stroke-width="1.3"/>
<line x1="427.37" y1="1378.4" x2="427.37" y2="1393.4" stroke="#000" stroke-width="1.3"/>
<line x1="122.74" y1="1088.9" x2="137.74" y2="1088.9" stroke="#000" stroke-width="1.3"/>
<line x1="717" y1="1088.9" x2="732" y2="1088.9" stroke="#000" stroke-width="1.3"/>
<line x1="451.51" y1="792" x2="451.51" y2="799.4" stroke="#444" stroke-width="1.0"/>
<line x1="451.51" y1="1378.4" x2="451.51" y2="1385.8" stroke="#444" stroke-width="1.0"/>
<line x1="130.34" y1="1113.03" x2="137.74" y2="1113.03" stroke="#444" stroke-width="1.0"/>
<line x1="717" y1="1113.03" x2="724.4" y2="1113.03" stroke="#444" stroke-width="1.0"/>
<line x1="475.64" y1="792" x2="475.64" y2="799.4" stroke="#444" stroke-width="1.0"/>
<line x1="475.64" y1="1378.4" x2="475.64" y2="1385.8" stroke="#444" stroke-width="1.0"/>
<line x1="130.34" y1="1137.15" x2="137.74" y2="1137.15" stroke="#444" stroke-width="1.0"/>
<line x1="717" y1="1137.15" x2="724.4" y2="1137.15" stroke="#444" stroke-width="1.0"/>
<line x1="499.78" y1="792" x2="499.78" y2="799.4" stroke="#444" stroke-width="1.0"/>
<line x1="499.78" y1="1378.4" x2="499.78" y2="1385.8" stroke="#444" stroke-width="1.0"/>
<line x1="130.34" y1="1161.28" x2="137.74" y2="1161.28" stroke="#444" stroke-width="1.0"/>
<line x1="717" y1="1161.28" x2="724.4" y2="1161.28" stroke="#444" stroke-width="1.0"/>
<line x1="523.91" y1="784.4" x2="523.91" y2="799.4" stroke="#000" stroke-width="1.3"/>
<line x1="523.91" y1="1378.4" x2="523.91" y2="1393.4" stroke="#000" stroke-width="1.3"/>
<line x1="122.74" y1="1185.4" x2="137.74" y2="1185.4" stroke="#000" stroke-width="1.3"/>
<line x1="717" y1="1185.4" x2="732" y2="1185.4" stroke="#000" stroke-width="1.3"/>
<line x1="548.05" y1="792" x2="548.05" y2="799.4" stroke="#444" stroke-width="1.0"/>
<line x1="548.05" y1="1378.4" x2="548.05" y2="1385.8" stroke="#444" stroke-width="1.0"/>
<line x1="130.34" y1="1209.53" x2="137.74" y2="1209.53" stroke="#444" stroke-width="1.0"/>
<line x1="717" y1="1209.53" x2="724.4" y2="1209.53" stroke="#444" stroke-width="1.0"/>
<line x1="572.18" y1="792" x2="572.18" y2="799.4" stroke="#444" stroke-width="1.0"/>
<line x1="572.18" y1="1378.4" x2="572.18" y2="1385.8" stroke="#444" stroke-width="1.0"/>
<line x1="130.34" y1="1233.65" x2="137.74" y2="1233.65" stroke="#444" stroke-width="1.0"/>
<line x1="717" y1="1233.65" x2="724.4" y2="1233.65" stroke="#444" stroke-width="1.0"/>
<line x1="596.32" y1="792" x2="596.32" y2="799.4" stroke="#444" stroke-width="1.0"/>
<line x1="596.32" y1="1378.4" x2="596.32" y2="1385.8" stroke="#444" stroke-width="1.0"/>
<line x1="130.34" y1="1257.78" x2="137.74" y2="1257.78" stroke="#444" stroke-width="1.0"/>
<line x1="717" y1="1257.78" x2="724.4" y2="1257.78" stroke="#444" stroke-width="1.0"/>
<line x1="620.46" y1="784.4" x2="620.46" y2="799.4" stroke="#000" stroke-width="1.3"/>
<line x1="620.46" y1="1378.4" x2="620.46" y2="1393.4" stroke="#000" stroke-width="1.3"/>
<line x1="122.74" y1="1281.9" x2="137.74" y2="1281.9" stroke="#000" stroke-width="1.3"/>
<line x1="717" y1="1281.9" x2="732" y2="1281.9" stroke="#000" stroke-width="1.3"/>
<line x1="644.59" y1="792" x2="644.59" y2="799.4" stroke="#444" stroke-width="1.0"/>
<line x1="644.59" y1="1378.4" x2="644.59" y2="1385.8" stroke="#444" stroke-width="1.0"/>
<line x1="130.34" y1="1306.03" x2="137.74" y2="1306.03" stroke="#444" stroke-width="1.0"/>
<line x1="717" y1="1306.03" x2="724.4" y2="1306.03" stroke="#444" stroke-width="1.0"/>
<line x1="668.73" y1="792" x2="668.73" y2="799.4" stroke="#444" stroke-width="1.0"/>
<line x1="668.73" y1="1378.4" x2="668.73" y2="1385.8" stroke="#444" stroke-width="1.0"/>
<line x1="130.34" y1="1330.15" x2="137.74" y2="1330.15" stroke="#444" stroke-width="1.0"/>
<line x1="717" y1="1330.15" x2="724.4" y2="1330.15" stroke="#444" stroke-width="1.0"/>
<line x1="692.86" y1="792" x2="692.86" y2="799.4" stroke="#444" stroke-width="1.0"/>
<line x1="692.86" y1="1378.4" x2="692.86" y2="1385.8" stroke="#444" stroke-width="1.0"/>
<line x1="130.34" y1="1354.28" x2="137.74" y2="1354.28" stroke="#444" stroke-width="1.0"/>
<line x1="717" y1="1354.28" x2="724.4" y2="1354.28" stroke="#444" stroke-width="1.0"/>
<line x1="717" y1="784.4" x2="717" y2="799.4" stroke="#000" stroke-width="1.3"/>
<line x1="717" y1="1378.4" x2="717" y2="1393.4" stroke="#000" stroke-width="1.3"/>
<line x1="122.74" y1="1378.4" x2="137.74" y2="1378.4" stroke="#000" stroke-width="1.3"/>
<line x1="717" y1="1378.4" x2="732" y2="1378.4" stroke="#000" stroke-width="1.3"/>
<rect x="783.7" y="799.4" width="579.3" height="579" fill="none" stroke="#000" stroke-width="1.3"/>
<line x1="783.7" y1="784.4" x2="783.7" y2="799.4" stroke="#000" stroke-width="1.3"/>
<line x1="783.7" y1="1378.4" x2="783.7" y2="1393.4" stroke="#000" stroke-width="1.3"/>
<line x1="768.7" y1="799.4" x2="783.7" y2="799.4" stroke="#000" stroke-width="1.3"/>
<line x1="1363" y1="799.4" x2="1378" y2="799.4" stroke="#000" stroke-width="1.3"/>
<line x1="807.84" y1="792" x2="807.84" y2="799.4" stroke="#444" stroke-width="1.0"/>
<line x1="807.84" y1="1378.4" x2="807.84" y2="1385.8" stroke="#444" stroke-width="1.0"/>
<line x1="776.3" y1="823.52" x2="783.7" y2="823.52" stroke="#444" stroke-width="1.0"/>
<line x1="1363" y1="823.52" x2="1370.4" y2="823.52" stroke="#444" stroke-width="1.0"/>
<line x1="831.98" y1="792" x2="831.98" y2="799.4" stroke="#444" stroke-width="1.0"/>
<line x1="831.98" y1="1378.4" x2="831.98" y2="1385.8" stroke="#444" stroke-width="1.0"/>
<line x1="776.3" y1="847.65" x2="783.7" y2="847.65" stroke="#444" stroke-width="1.0"/>
<line x1="1363" y1="847.65" x2="1370.4" y2="847.65" stroke="#444" stroke-width="1.0"/>
<line x1="856.11" y1="792" x2="856.11" y2="799.4" stroke="#444" stroke-width="1.0"/>
<line x1="856.11" y1="1378.4" x2="856.11" y2="1385.8" stroke="#444" stroke-width="1.0"/>
<line x1="776.3" y1="871.77" x2="783.7" y2="871.77" stroke="#444" stroke-width="1.0"/>
<line x1="1363" y1="871.77" x2="1370.4" y2="871.77" stroke="#444" stroke-width="1.0"/>
<line x1="880.25" y1="784.4" x2="880.25" y2="799.4" stroke="#000" stroke-width="1.3"/>
<line x1="880.25" y1="1378.4" x2="880.25" y2="1393.4" stroke="#000" stroke-width="1.3"/>
<line x1="768.7" y1="895.9" x2="783.7" y2="895.9" stroke="#000" stroke-width="1.3"/>
<line x1="1363" y1="895.9" x2="1378" y2="895.9" stroke="#000" stroke-width="1.3"/>
<line x1="904.39" y1="792" x2="904.39" y2="799.4" stroke="#444" stroke-width="1.0"/>
<line x1="904.39" y1="1378.4" x2="904.39" y2="1385.8" stroke="#444" stroke-width="1.0"/>
<line x1="776.3" y1="920.02" x2="783.7" y2="920.02" stroke="#444" stroke-width="1.0"/>
<line x1="1363" y1="920.02" x2="1370.4" y2="920.02" stroke="#444" stroke-width="1.0"/>
<line x1="928.53" y1="792" x2="928.53" y2="799.4" stroke="#444" stroke-width="1.0"/>
<line x1="928.53" y1="1378.4" x2="928.53" y2="1385.8" stroke="#444" stroke-width="1.0"/>
<line x1="776.3" y1="944.15" x2="783.7" y2="944.15" stroke="#444" stroke-width="1.0"/>
<line x1="1363" y1="944.15" x2="1370.4" y2="944.15" stroke="#444" stroke-width="1.0"/>
<line x1="952.66" y1="792" x2="952.66" y2="799.4" stroke="#444" stroke-width="1.0"/>
<line x1="952.66" y1="1378.4" x2="952.66" y2="1385.8" stroke="#444" stroke-width="1.0"/>
<line x1="776.3" y1="968.27" x2="783.7" y2="968.27" stroke="#444" stroke-width="1.0"/>
<line x1="1363" y1="968.27" x2="1370.4" y2="968.27" stroke="#444" stroke-width="1.0"/>
<line x1="976.8" y1="784.4" x2="976.8" y2="799.4" stroke="#000" stroke-width="1.3"/>
<line x1="976.8" y1="1378.4" x2="976.8" y2="1393.4" stroke="#000" stroke-width="1.3"/>
<line x1="768.7" y1="992.4" x2="783.7" y2="992.4" stroke="#000" stroke-width="1.3"/>
<line x1="1363" y1="992.4" x2="1378" y2="992.4" stroke="#000" stroke-width="1.3"/>
<line x1="1000.94" y1="792" x2="1000.94" y2="799.4" stroke="#444" stroke-width="1.0"/>
<line x1="1000.94" y1="1378.4" x2="1000.94" y2="1385.8" stroke="#444" stroke-width="1.0"/>
<line x1="776.3" y1="1016.52" x2="783.7" y2="1016.52" stroke="#444" stroke-width="1.0"/>
<line x1="1363" y1="1016.52" x2="1370.4" y2="1016.52" stroke="#444" stroke-width="1.0"/>
<line x1="1025.08" y1="792" x2="1025.08" y2="799.4" stroke="#444" stroke-width="1.0"/>
<line x1="1025.08" y1="1378.4" x2="1025.08" y2="1385.8" stroke="#444" stroke-width="1.0"/>
<line x1="776.3" y1="1040.65" x2="783.7" y2="1040.65" stroke="#444" stroke-width="1.0"/>
<line x1="1363" y1="1040.65" x2="1370.4" y2="1040.65" stroke="#444" stroke-width="1.0"/>
<line x1="1049.21" y1="792" x2="1049.21" y2="799.4" stroke="#444" stroke-width="1.0"/>
<line x1="1049.21" y1="1378.4" x2="1049.21" y2="1385.8" stroke="#444" stroke-width="1.0"/>
<line x1="776.3" y1="1064.78" x2="783.7" y2="1064.78" stroke="#444" stroke-width="1.0"/>
<line x1="1363" y1="1064.78" x2="1370.4" y2="1064.78" stroke="#444" stroke-width="1.0"/>
<line x1="1073.35" y1="784.4" x2="1073.35" y2="799.4" stroke="#000" stroke-width="1.3"/>
<line x1="1073.35" y1="1378.4" x2="1073.35" y2="1393.4" stroke="#000" stroke-width="1.3"/>
<line x1="768.7" y1="1088.9" x2="783.7" y2="1088.9" stroke="#000" stroke-width="1.3"/>
<line x1="1363" y1="1088.9" x2="1378" y2="1088.9" stroke="#000" stroke-width="1.3"/>
<line x1="1097.49" y1="792" x2="1097.49" y2="799.4" stroke="#444" stroke-width="1.0"/>
<line x1="1097.49" y1="1378.4" x2="1097.49" y2="1385.8" stroke="#444" stroke-width="1.0"/>
<line x1="776.3" y1="1113.03" x2="783.7" y2="1113.03" stroke="#444" stroke-width="1.0"/>
<line x1="1363" y1="1113.03" x2="1370.4" y2="1113.03" stroke="#444" stroke-width="1.0"/>
<line x1="1121.62" y1="792" x2="1121.62" y2="799.4" stroke="#444" stroke-width="1.0"/>
<line x1="1121.62" y1="1378.4" x2="1121.62" y2="1385.8" stroke="#444" stroke-width="1.0"/>
<line x1="776.3" y1="1137.15" x2="783.7" y2="1137.15" stroke="#444" stroke-width="1.0"/>
<line x1="1363" y1="1137.15" x2="1370.4" y2="1137.15" stroke="#444" stroke-width="1.0"/>
<line x1="1145.76" y1="792" x2="1145.76" y2="799.4" stroke="#444" stroke-width="1.0"/>
<line x1="1145.76" y1="1378.4" x2="1145.76" y2="1385.8" stroke="#444" stroke-width="1.0"/>
<line x1="776.3" y1="1161.28" x2="783.7" y2="1161.28" stroke="#444" stroke-width="1.0"/>
<line x1="1363" y1="1161.28" x2="1370.4" y2="1161.28" stroke="#444" stroke-width="1.0"/>
<line x1="1169.9" y1="784.4" x2="1169.9" y2="799.4" stroke="#000" stroke-width="1.3"/>
<line x1="1169.9" y1="1378.4" x2="1169.9" y2="1393.4" stroke="#000" stroke-width="1.3"/>
<line x1="768.7" y1="1185.4" x2="783.7" y2="1185.4" stroke="#000" stroke-width="1.3"/>
<line x1="1363" y1="1185.4" x2="1378" y2="1185.4" stroke="#000" stroke-width="1.3"/>
<line x1="1194.04" y1="792" x2="1194.04" y2="799.4" stroke="#444" stroke-width="1.0"/>
<line x1="1194.04" y1="1378.4" x2="1194.04" y2="1385.8" stroke="#444" stroke-width="1.0"/>
<line x1="776.3" y1="1209.53" x2="783.7" y2="1209.53" stroke="#444" stroke-width="1.0"/>
<line x1="1363" y1="1209.53" x2="1370.4" y2="1209.53" stroke="#444" stroke-width="1.0"/>
<line x1="1218.17" y1="792" x2="1218.17" y2="799.4" stroke="#444" stroke-width="1.0"/>
<line x1="1218.17" y1="1378.4" x2="1218.17" y2="1385.8" stroke="#444" stroke-width="1.0"/>
<line x1="776.3" y1="1233.65" x2="783.7" y2="1233.65" stroke="#444" stroke-width="1.0"/>
<line x1="1363" y1="1233.65" x2="1370.4" y2="1233.65" stroke="#444" stroke-width="1.0"/>
<line x1="1242.31" y1="792" x2="1242.31" y2="799.4" stroke="#444" stroke-width="1.0"/>
<line x1="1242.31" y1="1378.4" x2="1242.31" y2="1385.8" stroke="#444" stroke-width="1.0"/>
<line x1="776.3" y1="1257.78" x2="783.7" y2="1257.78" stroke="#444" stroke-width="1.0"/>
<line x1="1363" y1="1257.78" x2="1370.4" y2="1257.78" stroke="#444" stroke-width="1.0"/>
<line x1="1266.45" y1="784.4" x2="1266.45" y2="799.4" stroke="#000" stroke-width="1.3"/>
<line x1="1266.45" y1="1378.4" x2="1266.45" y2="1393.4" stroke="#000" stroke-width="1.3"/>
<line x1="768.7" y1="1281.9" x2="783.7" y2="1281.9" stroke="#000" stroke-width="1.3"/>
<line x1="1363" y1="1281.9" x2="1378" y2="1281.9" stroke="#000" stroke-width="1.3"/>
<line x1="1290.59" y1="792" x2="1290.59" y2="799.4" stroke="#444" stroke-width="1.0"/>
<line x1="1290.59" y1="1378.4" x2="1290.59" y2="1385.8" stroke="#444" stroke-width="1.0"/>
<line x1="776.3" y1="1306.03" x2="783.7" y2="1306.03" stroke="#444" stroke-width="1.0"/>
<line x1="1363" y1="1306.03" x2="1370.4" y2="1306.03" stroke="#444" stroke-width="1.0"/>
<line x1="1314.72" y1="792" x2="1314.72" y2="799.4" stroke="#444" stroke-width="1.0"/>
<line x1="1314.72" y1="1378.4" x2="1314.72" y2="1385.8" stroke="#444" stroke-width="1.0"/>
<line x1="776.3" y1="1330.15" x2="783.7" y2="1330.15" stroke="#444" stroke-width="1.0"/>
<line x1="1363" y1="1330.15" x2="1370.4" y2="1330.15" stroke="#444" stroke-width="1.0"/>
<line x1="1338.86" y1="792" x2="1338.86" y2="799.4" stroke="#444" stroke-width="1.0"/>
<line x1="1338.86" y1="1378.4" x2="1338.86" y2="1385.8" stroke="#444" stroke-width="1.0"/>
<line x1="776.3" y1="1354.28" x2="783.7" y2="1354.28" stroke="#444" stroke-width="1.0"/>
<line x1="1363" y1="1354.28" x2="1370.4" y2="1354.28" stroke="#444" stroke-width="1.0"/>
<line x1="1363" y1="784.4" x2="1363" y2="799.4" stroke="#000" stroke-width="1.3"/>
<line x1="1363" y1="1378.4" x2="1363" y2="1393.4" stroke="#000" stroke-width="1.3"/>
<line x1="768.7" y1="1378.4" x2="783.7" y2="1378.4" stroke="#000" stroke-width="1.3"/>
<line x1="1363" y1="1378.4" x2="1378" y2="1378.4" stroke="#000" stroke-width="1.3"/>
<text transform="translate(47.58,808.13) scale(0.9550,1)" fill="#000" font-size="24.9"><tspan x="0" y="-0" font-size="24.9">0.060</tspan></text>
<text transform="translate(47.58,904.63) scale(0.9550,1)" fill="#000" font-size="24.9"><tspan x="0" y="-0" font-size="24.9">0.040</tspan></text>
<text transform="translate(47.58,1001.13) scale(0.9550,1)" fill="#000" font-size="24.9"><tspan x="0" y="-0" font-size="24.9">0.020</tspan></text>
<text transform="translate(47.58,1097.63) scale(0.9550,1)" fill="#000" font-size="24.9"><tspan x="0" y="-0" font-size="24.9">0.000</tspan></text>
<text transform="translate(39.62,1194.13) scale(0.9550,1)" fill="#000" font-size="24.9"><tspan x="0" y="-0" font-size="24.9">-0.020</tspan></text>
<text transform="translate(39.62,1290.63) scale(0.9550,1)" fill="#000" font-size="24.9"><tspan x="0" y="-0" font-size="24.9">-0.040</tspan></text>
<text transform="translate(39.62,1387.13) scale(0.9550,1)" fill="#000" font-size="24.9"><tspan x="0" y="-0" font-size="24.9">-0.060</tspan></text>
<text transform="translate(117.29,1427.8) scale(0.9550,1)" fill="#000" font-size="24.9"><tspan x="0" y="-0" font-size="24.9">-1.2</tspan></text>
<text transform="translate(213.71,1427.8) scale(0.9550,1)" fill="#000" font-size="24.9"><tspan x="0" y="-0" font-size="24.9">-0.8</tspan></text>
<text transform="translate(309.96,1427.8) scale(0.9550,1)" fill="#000" font-size="24.9"><tspan x="0" y="-0" font-size="24.9">-0.4</tspan></text>
<text transform="translate(410.84,1427.8) scale(0.9550,1)" fill="#000" font-size="24.9"><tspan x="0" y="-0" font-size="24.9">0.0</tspan></text>
<text transform="translate(506.97,1427.8) scale(0.9550,1)" fill="#000" font-size="24.9"><tspan x="0" y="-0" font-size="24.9">0.4</tspan></text>
<text transform="translate(603.81,1427.8) scale(0.9550,1)" fill="#000" font-size="24.9"><tspan x="0" y="-0" font-size="24.9">0.8</tspan></text>
<text transform="translate(700.18,1427.8) scale(0.9550,1)" fill="#000" font-size="24.9"><tspan x="0" y="-0" font-size="24.9">1.2</tspan></text>
<text transform="translate(749.99,1427.8) scale(0.9550,1)" fill="#000" font-size="24.9"><tspan x="0" y="-0" font-size="24.9">-0.060</tspan></text>
<text transform="translate(846.54,1427.8) scale(0.9550,1)" fill="#000" font-size="24.9"><tspan x="0" y="-0" font-size="24.9">-0.040</tspan></text>
<text transform="translate(943.09,1427.8) scale(0.9550,1)" fill="#000" font-size="24.9"><tspan x="0" y="-0" font-size="24.9">-0.020</tspan></text>
<text transform="translate(1043.63,1427.8) scale(0.9550,1)" fill="#000" font-size="24.9"><tspan x="0" y="-0" font-size="24.9">0.000</tspan></text>
<text transform="translate(1140.18,1427.8) scale(0.9550,1)" fill="#000" font-size="24.9"><tspan x="0" y="-0" font-size="24.9">0.020</tspan></text>
<text transform="translate(1236.73,1427.8) scale(0.9550,1)" fill="#000" font-size="24.9"><tspan x="0" y="-0" font-size="24.9">0.040</tspan></text>
<text transform="translate(1333.28,1427.8) scale(0.9550,1)" fill="#000" font-size="24.9"><tspan x="0" y="-0" font-size="24.9">0.060</tspan></text>
<text transform="translate(51.78,775.7) scale(0.9953,1)" fill="#000" font-size="34"><tspan x="0" y="-0" font-size="34">(b)</tspan></text>
<text transform="translate(136.68,776.5) scale(0.9588,1)" fill="#000" font-size="25.1"><tspan x="0" y="-0" font-size="25.1">2002-2010 [DJF,BPF3060]</tspan></text>
<text transform="translate(553.07,776.5) scale(0.9496,1)" fill="#000" font-size="25.1"><tspan x="0" y="-0" font-size="25.1">0.49 [95% test]</tspan></text>
<text transform="translate(782.88,776.5) scale(0.9585,1)" fill="#000" font-size="25.1"><tspan x="0" y="-0" font-size="25.1">2002-2010 [DJF,BPF3060]</tspan></text>
<text transform="translate(1198.86,776.5) scale(0.9519,1)" fill="#000" font-size="25.1"><tspan x="0" y="-0" font-size="25.1">0.94 [95% test]</tspan></text>
<text transform="translate(219.38,1462.7) scale(0.9426,1)" fill="#000" font-size="25.2"><tspan x="0" y="0" font-size="25.2">VI(5-55m) ocean convergence [10</tspan><tspan x="399.18" y="-11.59" font-size="15.12">-7</tspan><tspan x="412.62" y="0" font-size="25.2">/s]</tspan></text>
<text transform="translate(1013.66,1462.7) scale(0.9362,1)" fill="#000" font-size="25.2"><tspan x="0" y="0" font-size="25.2">TSM [g/m</tspan><tspan x="113.39" y="-11.59" font-size="15.12">3</tspan><tspan x="121.8" y="0" font-size="25.2">]</tspan></text>
<text transform="translate(23.2,1170.55) rotate(-90) scale(0.9048,1)" fill="#000" font-size="26.2"><tspan x="0" y="0" font-size="26.2">CHL-a [mg/m</tspan><tspan x="163.02" y="-12.05" font-size="15.72">3</tspan><tspan x="171.77" y="0" font-size="26.2">]</tspan></text>
<path d="M329.5 1009.4h0M304.1 1019.2h0M320.5 1021.1h0M309.8 1026.4h0M315.5 1026.5h0M333.8 1026.6h0M313.1 1033.8h0M316.5 1033.8h0M302.1 1039.3h0M295.4 1042.1h0M296.6 1047.2h0M312.3 1044.8h0M315.7 1043.8h0M332.7 1044.2h0M322.8 1045.8h0M321.8 1048.1h0M325.9 1049.9h0M331.5 1051.4h0M289.9 1052.9h0M287.4 1065.9h0M293.2 1069.3h0M291.7 1071.2h0M293.4 1073.4h0M294 1076.3h0M315 1066.9h0M269.9 1082.3h0M267.3 1088.9h0M300.7 1087.5h0M311.5 1085.8h0M328.7 1086.3h0M335.6 1088.5h0M284.6 1096.1h0M305.3 1095.9h0M314.9 1093.9h0M251.2 1098.6h0M253.3 1105.8h0M326.7 1101.7h0M312.6 1101.5h0M315.2 1103h0M319.8 1105.6h0M335.1 1104.1h0M289.6 1106.9h0M310.1 1108.7h0M326.4 1109.4h0M319.8 1108.2h0M458 960.5h0M486.6 965.6h0M410.1 976.6h0M438.9 978.1h0M433.5 981.3h0M457 988.3h0M480.5 989.4h0M473.1 991.2h0M488.4 987.8h0M345.3 992h0M388 993.3h0M461.9 996.2h0M485.1 995.9h0M400.5 999.5h0M451.4 1001.7h0M453.7 1004.1h0M469.8 1004.4h0M473.3 1010.1h0M430.9 1009.8h0M434.5 1010.3h0M439.1 1011.4h0M443.2 1009.8h0M420 1013.2h0M349.5 1013.8h0M367.6 1015.3h0M362.7 1019.7h0M381.3 1017.7h0M396.2 1016.4h0M398.2 1019.1h0M401.6 1017.4h0M405.4 1016h0M409.3 1019.8h0M414.1 1019.6h0M440.4 1017.5h0M454.2 1017.2h0M460.4 1020.3h0M468.7 1020.5h0M486.4 1016.7h0M462.6 1025.7h0M469.8 1026.4h0M477.4 1027.4h0M482 1028.3h0M468.2 1030.3h0M472.8 1031.2h0M410.5 1027.4h0M416.4 1026.2h0M423.3 1027.4h0M423.6 1031h0M431.2 1027.9h0M438.9 1029.8h0M416.9 1033.4h0M395.4 1032.4h0M455.5 1031h0M459.8 1032.3h0M477.4 1035.3h0M485.9 1035.7h0M430.9 1035.6h0M430.9 1039.7h0M445.2 1036.4h0M446.3 1039.7h0M447.3 1043.3h0M450.9 1041.7h0M453.9 1040.7h0M464.3 1043.6h0M479.5 1041.2h0M479.5 1044h0M343.9 1037.3h0M343.9 1039.7h0M344.9 1045.9h0M358.7 1039.5h0M367.4 1041.2h0M363.7 1044.2h0M375.7 1036.9h0M394.5 1038.7h0M395 1042.6h0M395.7 1046.8h0M403.3 1042.3h0M411 1043.5h0M423.6 1046.3h0M386.5 1048.1h0M392.1 1050.4h0M396.2 1048.9h0M445.5 1049.7h0M452.4 1052.2h0M430.2 1053.3h0M425 1056.3h0M436.9 1055.8h0M407.2 1056.6h0M382.1 1054.8h0M341 1056h0M399.3 1054h0M397.2 1056h0M398.8 1059.6h0M468.9 1055.5h0M473.9 1056h0M477.9 1056.3h0M472.8 1059.6h0M476.4 1060.6h0M474.7 1064.2h0M458.3 1059.3h0M489.8 1061.2h0M354.3 1062.9h0M359.1 1066.6h0M363.3 1067h0M374.7 1067.5h0M371.5 1071.9h0M400.3 1065.2h0M399.8 1068.3h0M400.5 1071.9h0M419.5 1065.8h0M416.1 1071.6h0M421.2 1073.4h0M432.3 1072.2h0M463.4 1067.3h0M466.7 1068.6h0M462.6 1072.4h0M464.5 1076.3h0M485.6 1068.3h0M346.1 1073.9h0M386 1074.1h0M399.3 1074.9h0M395.7 1077.5h0M401.3 1079h0M417.1 1076.5h0M416.9 1079h0M423.8 1076.5h0M424.8 1079.5h0M430.4 1078.3h0M439.6 1078.5h0M455.5 1076h0M482.5 1078.5h0M358.2 1079.5h0M474.2 1082.4h0M487.1 1082.6h0M489.2 1085.2h0M353.1 1085.7h0M412.3 1083.8h0M424.6 1083.1h0M401.3 1082.6h0M400.3 1086.2h0M392.3 1086.5h0M395.2 1089.3h0M443.2 1085.2h0M448.3 1084.5h0M439.1 1084.7h0M459 1086.7h0M461.1 1085.5h0M464.1 1088.2h0M471.8 1090.3h0M475.4 1091h0M477.9 1088.4h0M420.2 1089.6h0M409.5 1091.3h0M401.3 1090.3h0M400.8 1093.9h0M397.2 1091.8h0M423.3 1092.8h0M426.8 1092.3h0M432.5 1091.3h0M437.1 1091.8h0M441.7 1091.3h0M448.8 1091.8h0M452.4 1093.9h0M341.5 1095.7h0M358.7 1096.4h0M391.1 1096.4h0M394.2 1095.4h0M403.9 1095.9h0M406.4 1099h0M413.1 1099.2h0M418.9 1099.2h0M425.3 1096.9h0M433 1095.9h0M435.5 1099.5h0M440.6 1096.9h0M442.2 1100h0M462.1 1099.7h0M471.8 1100.2h0M475.9 1100.2h0M482 1099.2h0M485.1 1098.8h0M488.7 1099.5h0M351.8 1103.9h0M366.8 1103.3h0M376.6 1103.4h0M406.9 1102.5h0M400.8 1105.1h0M397.7 1107.6h0M450.9 1102h0M453.4 1105.1h0M456 1108.2h0M436 1103h0M438.1 1106.1h0M442.2 1104.6h0M421.7 1108h0M426.8 1109.2h0M435.5 1108.7h0M404.4 1108.7h0M388 1108.2h0M346.1 1109.2h0M515.3 961.8h0M559 962.6h0M591.7 964.9h0M620.3 963.9h0M530.4 965.9h0M576.3 968.4h0M623.9 969.4h0M499.7 969.9h0M520.4 969.7h0M551.8 971h0M611.1 969.4h0M617 975.3h0M499 974.3h0M515 975.5h0M520.1 974.8h0M498.2 978.9h0M508.2 978.9h0M599 978.1h0M608.5 978.9h0M611.9 979.6h0M542.9 979.6h0M491.5 982.3h0M531.4 984h0M555.6 984h0M573 983h0M516.6 984.5h0M503.3 987.8h0M506.9 986.4h0M512.3 987.1h0M518.6 989.6h0M525.8 988.1h0M606.7 988.4h0M538.7 990.3h0M537.5 995h0M495.3 995.5h0M503.1 995.8h0M510.1 1001.3h0M551 1003.6h0M559.2 1004h0M535 1004.8h0M531.4 1007.2h0M598.6 1005.5h0M599.3 1008.8h0M582.3 1008h0M587.6 1011.9h0M614.7 1011.6h0M597.8 1013.6h0M540.9 1011.1h0M543.6 1013.6h0M546.7 1016h0M551 1017.7h0M562.2 1013.6h0M600.4 1018.8h0M609 1017.7h0M498.7 1012.4h0M493.6 1014.2h0M505.5 1018.5h0M512 1019h0M511.7 1023.6h0M523.6 1024.4h0M496.7 1026.9h0M501.4 1031.2h0M519.6 1030.5h0M513.7 1033.4h0M529.1 1031.5h0M525.8 1034.3h0M546.5 1029.5h0M571.7 1029h0M569.9 1030.5h0M568.4 1036.4h0M586 1030.5h0M586 1035.3h0M516.8 1037.7h0M515.5 1041.2h0M521.2 1039.9h0M505 1043.5h0M613.1 1036.8h0M607.7 1040.2h0M612.6 1041.7h0M606.8 1047.2h0M613.6 1047.4h0M613.4 1051.4h0M499.2 1050.4h0M499 1054h0M493.4 1054.5h0M533.2 1049.7h0M539.6 1050.2h0M491.5 1060.6h0M495.6 1063.7h0M505.1 1060.1h0M540.9 1069h0M533.4 1071.4h0M510.9 1071.4h0M513 1070.9h0M512 1073.4h0M520.1 1070.9h0M524.7 1072.9h0M527.3 1075.5h0M502.6 1074.9h0M545.7 1076.8h0M608.2 1076.2h0M519.6 1077h0M520.7 1080.6h0M515 1081.1h0M527.8 1079h0M528.3 1082.6h0M532.4 1083.6h0M523.7 1084.1h0M491 1081.6h0M495.6 1082.6h0M499.7 1085.2h0M502.1 1088.7h0M504.3 1092.5h0M512 1085.2h0M514.5 1087.7h0M523.7 1088.2h0M525.8 1091.3h0M527.3 1094.4h0M532.9 1087.7h0M533.4 1091.8h0M541.1 1088.4h0M547.7 1092.5h0M546.2 1095.6h0M491 1091.8h0M498.4 1096.4h0M511.5 1096.4h0M514.5 1096.4h0M511.5 1099.5h0M529.8 1100h0M532.4 1102.5h0M530.4 1105.1h0M524.7 1103h0M515 1103h0M505.3 1103h0M510.9 1106.1h0M515.5 1108.2h0M524.7 1109.2h0M504.8 1109.2h0M584 1107.1h0M598.3 1109.7h0M498.7 1109.7h0M223 1112h0M235.5 1112.2h0M292.5 1116.3h0M291.5 1119.7h0M299.5 1122h0M307.7 1122h0M311.6 1125.6h0M314.9 1120.2h0M319.3 1118h0M327.2 1120.7h0M318.2 1127.4h0M338.7 1117.4h0M214.2 1129.4h0M242.8 1126.6h0M257.4 1129.3h0M272.3 1127.1h0M236.2 1134.8h0M247.4 1134.9h0M314.7 1134.8h0M321.8 1137.6h0M331.3 1134.8h0M292 1138.4h0M242.6 1142.9h0M232.9 1146.6h0M237.2 1146.1h0M242.9 1147.6h0M271.2 1143.9h0M339.2 1145.8h0M209.4 1151.9h0M207.4 1155h0M208.9 1157.3h0M224.5 1154.5h0M233.4 1153.9h0M252.9 1151.4h0M282.5 1151.2h0M215.4 1160.1h0M237.5 1160.8h0M268.7 1161.3h0M272.8 1167.5h0M320 1161.1h0M330.5 1158.8h0M333.6 1158.5h0M329.7 1162.6h0M336.4 1161.1h0M244.5 1169.8h0M248.2 1174.4h0M298.8 1172.8h0M308.2 1169.9h0M312.4 1175.2h0M291 1175.9h0M258.3 1174.4h0M254.9 1177.4h0M259.3 1179.5h0M338.7 1174.4h0M333 1182.5h0M253 1188h0M339.8 1192.3h0M256.4 1205.7h0M267.7 1207.4h0M264.9 1209.3h0M283.3 1203.6h0M301 1203.2h0M334.1 1207.4h0M320.3 1212.7h0M321.6 1215.2h0M332.7 1216h0M317.7 1223.4h0M323.6 1222.2h0M333.8 1225.8h0M278.4 1225.5h0M296 1232.8h0M316.4 1237.2h0M311.6 1242.3h0M312.6 1245.9h0M314.9 1247.9h0M345.6 1111h0M352.3 1114.6h0M349.7 1119.2h0M357.9 1117.2h0M364.5 1119.7h0M370.7 1114.1h0M374.2 1115.1h0M382.9 1112h0M386 1115.6h0M392.3 1115.6h0M399.3 1114.6h0M399.3 1119.7h0M405.4 1113.1h0M406.9 1116.1h0M412.5 1113.1h0M417.1 1115.1h0M415.6 1123.1h0M422.3 1119.7h0M426.8 1111.5h0M428.9 1116.1h0M426.8 1121.8h0M427.4 1126.9h0M426.8 1128.9h0M432 1112.6h0M438.1 1111.5h0M442.2 1113.6h0M438.6 1117.4h0M461.3 1111h0M489.2 1120.2h0M355.3 1133.5h0M373.7 1131.7h0M374.7 1133.5h0M384.4 1128.4h0M383.9 1130.4h0M387.2 1129.9h0M391.6 1134.5h0M397 1134.5h0M403.9 1138.9h0M411.5 1135.9h0M420 1136.8h0M430.4 1134h0M428.9 1137.1h0M426.3 1140.1h0M432.5 1138.6h0M435 1141.5h0M437.4 1130.9h0M442.5 1134.3h0M446.3 1137.8h0M445.5 1140.7h0M460.4 1134h0M461.2 1141.4h0M475.4 1132.5h0M479.5 1141.4h0M488.2 1137.1h0M341.5 1145.8h0M343.1 1147.3h0M378.5 1143.3h0M390.4 1146.1h0M409.8 1145.5h0M429.6 1148.5h0M349.4 1153.2h0M388 1153h0M426.8 1152.4h0M425.8 1154.4h0M427.9 1155.5h0M425.6 1160.8h0M438.6 1156.1h0M446.7 1156.1h0M485.3 1154.8h0M489.2 1148.8h0M360.9 1156h0M367.6 1156.5h0M370.7 1157h0M373.4 1155.5h0M355 1160.6h0M362.5 1160.1h0M362 1163.1h0M365.5 1164.2h0M369.1 1163.1h0M362 1165.7h0M367.6 1167.2h0M369.1 1169.8h0M370.7 1171.8h0M372.7 1173.9h0M378.5 1166.3h0M397.7 1159.8h0M408.5 1158h0M411 1157.8h0M416.4 1161.4h0M414.3 1167.2h0M405.9 1168.2h0M389 1167.2h0M387.2 1170.8h0M463.9 1160.8h0M453.8 1165.9h0M349.2 1171h0M353.5 1170.3h0M360.6 1172.9h0M340.5 1174.4h0M348 1178.3h0M402.8 1173.3h0M429.4 1173.6h0M431.2 1176.9h0M432.5 1179.3h0M439.9 1175.2h0M451.6 1177.2h0M359.4 1179.5h0M363 1181.5h0M366.4 1184.3h0M383.7 1180.2h0M386.3 1182.5h0M399.3 1181.5h0M401.3 1185.6h0M408.5 1180h0M418.9 1184.7h0M435.8 1184.7h0M341.5 1192.3h0M347.2 1192h0M388.5 1190.4h0M430.9 1189.2h0M433.5 1191.7h0M433.5 1195.3h0M433.2 1198.1h0M460.3 1192.4h0M466.2 1190h0M478.8 1187.9h0M489.2 1189h0M347.7 1198.4h0M350.2 1199.4h0M349.5 1204h0M385.7 1202.8h0M394.2 1206.3h0M359.4 1208.1h0M373.9 1209.6h0M347.2 1214.4h0M345.6 1217.3h0M344.1 1219.8h0M342 1221.4h0M365.2 1215h0M381.1 1217.8h0M370 1244.7h0M491.5 1111.5h0M565.4 1113.4h0M494.6 1120.2h0M490.5 1120.2h0M515.5 1117.4h0M520.1 1116.9h0M509.4 1120.2h0M506.3 1122.8h0M512 1122.8h0M502.8 1125.3h0M504.8 1127.2h0M512 1125.8h0M516.6 1127.4h0M518.6 1128.6h0M496.6 1127.6h0M514 1132.8h0M517.6 1140.1h0M515.5 1143.5h0M499.2 1146.6h0M490.5 1148.6h0M508.4 1148h0M512 1147.3h0M517.6 1148h0M504.3 1151.4h0M507.9 1152.9h0M502.8 1153.9h0M542.9 1145.8h0M509.9 1167.4h0M512.5 1166.9h0M505.3 1172.6h0M490.5 1188.9h0M498.5 1197h0M385 1113.6h0M388 1117.2h0M381.9 1114.6h0M424.8 1114.1h0M429.9 1114.1h0M435 1114.6h0M440.6 1116.1h0M425.8 1118.7h0M428.9 1119.7h0M436 1112h0M390.4 1104.7h0M393.2 1101.6h0M387 1110.8h0M385.7 1108.1h0M386.5 892h0M411 928.7h0M436.8 937.7h0M463.2 920h0M489 909.5h0M482.8 955.1h0M582 881.8h0M538.7 914.9h0M515 920.4h0M560.2 914.9h0M568.6 915.3h0M575.8 915.6h0M578.6 919.6h0M604.2 922h0M593.4 928.2h0M580.5 937h0M571.2 942.5h0M569 946h0M546.7 944.9h0M519.1 952.1h0M532.4 952.5h0M507 957.5h0M580.5 958.2h0M622.8 957h0" stroke="#dc281b" stroke-width="5.6" stroke-linecap="round" fill="none"/>
<path d="M945.5 1160.7h0M942.7 1164.8h0M931.7 1179.9h0M934.5 1192h0M929.6 1198.8h0M920.8 1206.1h0M913.3 1217.7h0M947.2 1207.7h0M946.8 1210.3h0M940.4 1217.4h0M941.1 1222h0M937.3 1225.6h0M931.5 1237.1h0M930.4 1242h0M927.1 1245.5h0M928.1 1248.1h0M968.2 1244.6h0M990.1 1232.8h0M1045.1 1069h0M1035.7 1076.8h0M1045.3 1078.7h0M1044.9 1087.9h0M1048.2 1090.9h0M1045.6 1095.5h0M1032.3 1092h0M1032.6 1095h0M1042.5 1102.5h0M1034.4 1107.3h0M1029.8 1110.4h0M1032.8 1112.9h0M1028.2 1116.8h0M1031.6 1126.5h0M1107.7 1001.5h0M1109.1 1007.2h0M1109.3 1012.3h0M1074.2 1017.7h0M1078.1 1024.3h0M1096.2 1016.7h0M1102.6 1019.4h0M1091.1 1030.4h0M1080.1 1035.3h0M1053.6 1049.8h0M1113.9 1023.5h0M1155.2 1011.5h0M1144 1009h0M1140.4 1020.9h0M1141.2 1026.4h0M1133.3 1031.2h0M1198.7 1014.1h0M1188.7 1041.1h0M1126.4 1054.6h0M1119.5 1059.3h0M1122.5 1060.8h0M1145.3 1071.7h0M1120.5 1080.9h0M1106.2 1066.9h0M1110.3 1067.4h0M1113.3 1067.9h0M1113.6 1071.5h0M1104.2 1072.5h0M1097.5 1073.4h0M1107.5 1080.7h0M1103.1 1083.8h0M1099 1082.8h0M1094.7 1084.8h0M1101.6 1087.4h0M1087.8 1090.9h0M1091.9 1094h0M1095 1096h0M1097 1097.6h0M1100.8 1103.2h0M1090.4 1103.5h0M1084.2 1107.3h0M1080.1 1110.9h0M1077.4 1111.9h0M1068.4 1118h0M1064 1134.9h0M1059.5 1142.7h0M1054.6 1147.6h0M1083.7 1098.6h0M1080.7 1096h0M1169.2 909.3h0M1166.5 914.9h0M1189 915.2h0M1196.1 915.9h0M1161.9 920.3h0M1171.9 919.5h0M1166.5 922h0M1160.1 928.7h0M1163.6 928.4h0M1150.8 937.6h0M1180.3 937.1h0M1163.1 942.5h0M1162.4 945h0M1177.4 946h0M1155.2 952.2h0M1159.3 952.5h0M1160.9 957.3h0M1159.3 957.8h0M1170.6 955.2h0M1169 959.8h0M1178.5 958.3h0M1127.7 961.9h0M1114.4 965.8h0M1111.8 969.8h0M1150.1 962.9h0M1147.6 966h0M1155.8 963.9h0M1155.2 969h0M1169.3 968.5h0M1139.4 969.3h0M1138.4 974.5h0M1145.5 971.6h0M1144.5 974.1h0M1149.1 976.2h0M1154.7 975.2h0M1161.4 976.7h0M1157.8 979.3h0M1159.8 981.1h0M1129.5 974.9h0M1127.9 979.6h0M1130 984.9h0M1142.5 979.8h0M1142 983.9h0M1147.1 981.8h0M1150.1 983.3h0M1146 986.9h0M1149.1 989h0M1137.9 989.5h0M1142.5 990.5h0M1146.6 992.5h0M1143.5 995.6h0M1156.1 993.3h0M1104.7 986.9h0M1107.4 995.3h0M1113.1 995.6h0M1130.9 996.1h0M1131.7 999.2h0M1107.2 999.7h0M1286.8 988.1h0M1213.1 1016.9h0M1218.4 1018.3h0M1214.8 1020.5h0M1209.7 1026.6h0M1207.2 1029.2h0M1213.8 1029.7h0M1205.1 1031.7h0M1205.6 1035.6h0M1202 1037.9h0M1216.1 1036.3h0M1223.7 1033.4h0M1227.1 1042.2h0M1226.6 881.9h0M1215.4 891.9h0M1053.6 1152.1h0M1055.7 1154.2h0M1053.6 1161h0M1050.8 1167.4h0M1063 1167.1h0M1052.8 1174.6h0M1058.2 1175.4h0M1063.9 1176.1h0M1065.9 1175.1h0M1072 1152.9h0M1084.3 1161.3h0M1086.3 1161.1h0M968.3 1143.6h0M968 1153.2h0M965.5 1169.4h0M963.4 1172.2h0M968.2 1190.4h0M984.7 1173.3h0M992.8 1161.5h0M999.9 1154.4h0M1002 1156.2h0M1003.2 1161.2h0M997.4 1170h0M996.8 1173.1h0M992.2 1182.3h0M1019.2 1141.8h0M1015.5 1153.2h0M1012.1 1157.2h0M1017.3 1155.9h0M1020.7 1158.4h0M1015.2 1160.8h0M1017.6 1162.7h0M1009 1164.5h0M1007.2 1167.6h0M1010.9 1167.6h0M1007.8 1170.7h0M1005.4 1173.4h0M1002.9 1176.2h0M1005.4 1177.4h0M996.8 1179.2h0M999.9 1179.9h0M1002.9 1180.5h0M1009.4 1182h0M998 1182.9h0M999.9 1185.4h0M996.8 1189.7h0M999.2 1192.1h0M994 1196.7h0M1025 1153.2h0M1024.1 1166.7h0M1031.7 1169.9h0M1018.5 1173.1h0M1020.4 1176.2h0M1021.3 1179.2h0M1015.2 1187.5h0M1014.9 1189.7h0M1009 1192.1h0M1008.1 1195.2h0M1007.2 1197.9h0M988.2 1204.1h0M986.4 1207.4h0M994.9 1203.1h0M999.9 1203.8h0M1004.8 1205.9h0M1000.5 1207.4h0M1002.3 1209.6h0M980.8 1214.2h0M986.1 1213.3h0M982.1 1216h0M983.5 1221.2h0M990.7 1225.5h0M994.6 1223.4h0M1028.7 1142.5h0M1031.1 1145.5h0M1029.3 1148h0M1033.6 1142.5h0M1037.2 1141.8h0M1041.5 1142.5h0M1045.2 1141.2h0M1042.8 1146.1h0M1038.5 1146.1h0M1035.4 1148h0M1039.7 1150.4h0M1032.3 1151h0M1036 1153.5h0M1027.4 1155.3h0M1030.5 1157.2h0M1037.9 1156.6h0M1036.6 1160.2h0M1029.9 1160.8h0M1027.4 1159h0M1033.6 1158.4h0M1121 1011.3h0M1134.3 1009.9h0M1129.9 1003.1h0M1129.8 1018.1h0M1127.3 1015.5h0M1135.2 1002h0M1127 1008h0M1130 1012.4h0M1125 1012.1h0M1123.8 1006.5h0M1133.5 1005h0M1133.6 1013.4h0M1125.2 1018.3h0M1126.3 1003.4h0M1120.1 1018.2h0M1118.2 1015.1h0M1100.5 1042.6h0M1120.4 1037.2h0M1083.4 1065.6h0M1098.3 1051.6h0M1105.2 1052.7h0M1121.3 1027.4h0M1095.5 1047h0M1107.7 1042.6h0M1084.2 1061.1h0M1111 1034.3h0M1110.6 1046.2h0M1095.6 1059h0M1082.8 1079.3h0M1073.5 1067.4h0M1084.6 1044.2h0M1104.1 1056.9h0M1068.8 1067.2h0M1090.6 1063.7h0M1107 1034.7h0M1072.3 1076.3h0M1089.5 1069.2h0M1089.2 1052.2h0M1077.5 1060.8h0M1107.1 1046.7h0M1082.5 1050h0M1082.5 1069.8h0M1073.5 1071.6h0M1062.1 1074.7h0M1101.2 1059.9h0M1087.3 1073.2h0M1103.3 1037.3h0M1086.1 1068.8h0M1063.9 1078.2h0M1125.9 1029.8h0M1075.8 1055.5h0M1067.8 1074.4h0M1080.9 1063h0M1089.7 1040.4h0M1119.6 1030.8h0M1092.6 1072.4h0M1115.9 1042.9h0M1118.2 1034.7h0M1108.1 1039.2h0M1089.4 1060.1h0M1103.9 1042.2h0M1098 1056.5h0M1097.2 1041.3h0M1088.1 1047.3h0M1111.6 1042.9h0M1117.1 1046.4h0M1095.2 1053.4h0M1093.1 1066h0M1078.1 1076.6h0M1076.3 1052h0M1078.4 1073.2h0M1073.4 1079.5h0M1098.1 1061.4h0M1073.6 1063.5h0M1086.9 1056.1h0M1100.3 1032.7h0M1124.3 1033.6h0M1091.5 1057.4h0M1093.8 1043h0M1087.4 1065h0M1076.9 1065.8h0M1131.3 1027.5h0M1098.6 1037.5h0M1091 1076.1h0M1115.4 1032.6h0M1068.8 1070.6h0M1105.2 1031.8h0M1093.3 1061.4h0M1087 1077.8h0M1074.3 1059.5h0M1077.3 1069.8h0M1094 1039.4h0M1100.9 1053.8h0M1078 1049h0M1119.2 1040.9h0M1089.7 1043.9h0M1096.2 1064.4h0M1111.6 1037.6h0M1107.4 1050.2h0M1085.6 1051.9h0M1098.8 1045.8h0M1081.7 1076.1h0M1127.3 1026.6h0M1080.1 1067.2h0M1094.8 1069.2h0M1081.6 1090.2h0M1070.2 1094.4h0M1057.7 1091.4h0M1031 1134.3h0M1065 1085.1h0M1087.9 1082.1h0M1036.5 1132.1h0M1051.6 1108.1h0M1044 1118h0M1076.4 1091.8h0M1049.3 1127.6h0M1042.8 1138.5h0M1056.9 1111.6h0M1055.9 1103.4h0M1071.6 1102.1h0M1056.9 1122.7h0M1068.3 1090.6h0M1069.8 1107.1h0M1041.7 1131.8h0M1045.9 1129.4h0M1074.1 1086.2h0M1076.7 1099.7h0M1057.9 1118.6h0M1084.6 1084.8h0M1039.5 1127.8h0M1037.3 1136.3h0M1053 1112.1h0M1065.9 1107.6h0M1061.8 1091.1h0M1059.9 1113.7h0M1050.2 1115h0M1068.1 1103.6h0M1057.2 1099.9h0M1060.5 1095.7h0M1079 1085.6h0M1054 1125h0M1062.6 1110.6h0M1050.7 1123.1h0M1063.7 1099.5h0M1029.6 1139.1h0M1027.1 1135.7h0M1061.2 1101.9h0M1047.7 1132.3h0M1047.5 1118h0M1064.4 1104.6h0M1063.2 1114.8h0M1080.7 1082.4h0M1051.6 1118.5h0M1058.8 1087.4h0M1052.5 1095.9h0M1022 1149.9h0M1065.1 1093.8h0M1056.6 1107.1h0M1069.7 1110.5h0M1056.2 1094.7h0M1059.7 1108.5h0M1068.6 1083.5h0M1040.3 1117.7h0M1011.5 1162.1h0M1071.1 1088.3h0M1021.6 1154.1h0M1067.2 1099.4h0M1055.6 1129.1h0M1060.5 1122.9h0M1066 1112.7h0M1061 1083.3h0M1074.8 1096.7h0M1068.1 1086.8h0M1040.4 1121.5h0M1043.6 1126.3h0M1046.9 1113.6h0M1058.4 1126.4h0M1025.2 1144h0M1072.9 1091.8h0M1025.5 1147.5h0M1052.5 1104.1h0M1070.9 1098.4h0M1073.2 1105.6h0M1033.4 1139h0M1054.7 1120.1h0M1014.7 1164.6h0M1056.3 1115h0M1045.4 1135h0M1023.8 1134.9h0M1039.4 1139h0M1064.4 1088.8h0M1078 1088.9h0M1040.6 1135.6h0M1074.9 1102.7h0M1026.1 1139.2h0M1072.3 1082.8h0M1087.8 1085.9h0" stroke="#dc281b" stroke-width="5.6" stroke-linecap="round" fill="none"/>
<line x1="207.1" y1="1172.75" x2="624" y2="1012" stroke="#000" stroke-width="1.3"/>
<line x1="913" y1="1266" x2="1287" y2="852.5" stroke="#000" stroke-width="1.3"/>
</g>
</svg>
</body></html>
